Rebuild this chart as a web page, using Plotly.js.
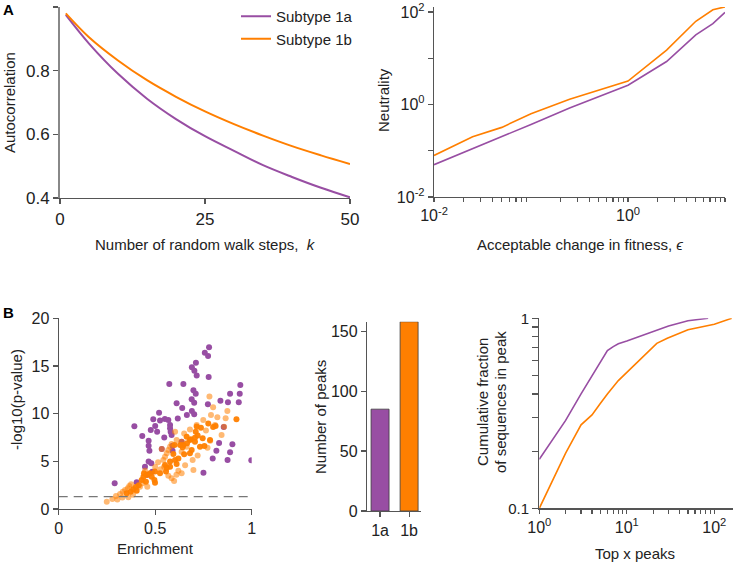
<!DOCTYPE html>
<html>
<head>
<meta charset="utf-8">
<script src="https://cdn.plot.ly/plotly-3.0.1.min.js"></script>
<style>
html,body{margin:0;padding:0;background:#fff;}
#chart{width:736px;height:563px;}
</style>
</head>
<body>
<div id="chart"></div>
<script>
// ---------------- DATA ----------------
const seriesNames = ['Subtype 1a', 'Subtype 1b'];

// Panel A (left): autocorrelation vs random walk steps
const walkSteps = [1, 5, 10, 15, 20, 25, 30, 35, 40, 45, 50];
const autocorr1a = [0.975, 0.885, 0.79, 0.712, 0.648, 0.594, 0.548, 0.503, 0.466, 0.432, 0.402];
const autocorr1b = [0.980, 0.905, 0.832, 0.770, 0.718, 0.672, 0.632, 0.596, 0.563, 0.534, 0.507];

// Panel A (right): neutrality vs acceptable change in fitness
const fitnessChange = [0.01, 0.025, 0.05, 0.1, 0.25, 0.5, 1, 2.5, 5, 7.5, 10];
const neutrality1a = [0.05, 0.11, 0.2, 0.37, 0.84, 1.5, 2.6, 8.5, 32, 56, 98];
const neutrality1b = [0.079, 0.2, 0.32, 0.63, 1.3, 2.0, 3.2, 15, 63, 112, 129];

// Panel B (left): enrichment vs -log10(p-value)
const enrich1a = [0.29,0.404,0.392,0.433,0.447,0.466,0.466,0.47,0.466,0.48,0.477,0.49,0.50,0.51,0.485,0.46,
  0.52,0.525,0.547,0.55,0.568,0.577,0.577,0.58,0.585,0.573,0.59,0.59,0.611,0.617,0.646,0.64,0.664,
  0.689,0.702,0.69,0.702,0.698,0.71,0.69,0.703,0.715,0.711,0.75,0.757,0.774,0.779,0.777,0.773,
  0.798,0.817,0.831,0.838,0.877,0.888,0.875,0.888,0.9,0.933,0.938,0.941,0.998,0.534,0.637,0.855];
const logp1a = [2.7,2.8,8.67,7.66,4.44,7.17,6.64,6.1,4.97,4.8,8.29,9.4,8.7,8.1,3.9,3.6,
  10.1,9.27,7.5,9.44,9.33,8.8,8.46,8.1,7.76,13.1,6.64,6.1,11.1,9.5,13.1,10.6,9.85,
  11.5,11.15,10.28,9.93,12.45,12.1,14.86,14.5,14.0,15.35,3.8,16.4,16.05,16.96,13.84,10.98,
  5.3,6.12,6.92,11.36,11.2,12.1,5.14,5.94,6.8,11.2,12.1,13.0,5.1,6.3,7.06,8.6];

const enrich1b = [0.352,0.373,0.387,0.404,0.43,0.439,0.442,0.452,0.456,0.473,0.482,0.496,0.499,0.499,0.525,
  0.556,0.551,0.577,0.594,0.60,0.65,0.689,0.646,0.663,0.685,0.706,0.746,0.71,0.737,0.775,0.921,
  0.629,0.68,0.706,0.715,0.813,0.642,0.68,0.732,0.784,0.603,0.611,0.577,0.56,0.62,0.665,0.72,0.755,0.80,0.40,0.415];
const logp1b = [1.64,1.82,2.06,1.92,3.04,3.39,3.74,2.87,3.57,3.74,3.39,3.04,2.76,3.92,3.74,
  3.92,4.62,4.97,5.77,6.71,5.73,6.19,6.71,7.59,7.31,7.06,7.41,8.11,8.53,8.98,9.41,
  6.71,7.24,7.48,8.64,8.71,6.47,5.84,6.54,7.24,5.14,4.72,4.44,4.3,5.3,6.9,7.7,6.6,8.6,2.3,2.5];

const enrich1bLow = [0.249,0.278,0.304,0.297,0.318,0.332,0.344,0.358,0.366,0.375,0.361,0.33,0.385,0.421,0.435,
  0.447,0.459,0.528,0.546,0.542,0.551,0.56,0.568,0.577,0.585,0.568,0.585,0.598,0.611,0.603,0.874,0.789,
  0.822,0.865,0.749,0.715,0.81,0.763,0.68,0.844,0.65,0.785,0.771,0.663,0.637,0.694,0.698,0.637,0.781,
  0.80,0.534,0.637,0.857,0.62,0.655,0.72,0.61,0.50,0.515];
const logp1bLow = [0.77,1.05,1.0,1.36,1.57,1.82,2.0,2.17,2.41,2.59,1.22,1.2,1.5,2.34,2.69,
  4.02,2.34,4.16,4.44,5.14,5.49,5.84,6.19,6.54,6.82,3.5,3.22,2.94,7.24,8.11,10.28,9.86,
  9.61,9.51,9.33,8.81,8.81,8.22,8.35,7.76,7.93,7.17,6.43,6.54,6.01,5.14,4.09,3.74,11.8,
  10.66,6.3,7.06,8.63,4.0,4.6,5.6,3.6,4.4,4.9];

const pThreshold = -Math.log10(0.05);

// Panel B (middle): number of peaks
const peakCategories = ['1a', '1b'];
const peakCounts = [85, 158];

// Panel B (right): cumulative fraction of sequences in top x peaks
const topX1a = [1, 2, 3, 4, 5, 6, 7, 8, 10, 20, 30, 50, 60, 70, 85];
const cumFrac1a = [0.181, 0.29, 0.40, 0.50, 0.59, 0.676, 0.71, 0.735, 0.76, 0.85, 0.91, 0.97, 0.98, 0.99, 1.0];
const topX1b = [1, 2, 3, 4, 5, 6, 8, 10, 22, 29, 50, 100, 158];
const cumFrac1b = [0.1, 0.195, 0.275, 0.31, 0.357, 0.40, 0.47, 0.52, 0.738, 0.785, 0.87, 0.93, 1.0];

// Tick labels
const negLog2Ticks = [[0.01, '10<sup>-2</sup>'], [1, '10<sup>0</sup>'], [10, '10<sup>1</sup>']];
const neutralityTicks = [[0.01, '10<sup>-2</sup>'], [0.1, ''], [1, '10<sup>0</sup>'], [10, ''], [100, '10<sup>2</sup>']];
const topXTicks = [[1, '10<sup>0</sup>'], [10, '10<sup>1</sup>'], [100, '10<sup>2</sup>']];
const cumTicks = [[0.1, '0.1'], [1, '1']];

// ---------------- STYLE ----------------
const purple = '#984ea3';
const orange = '#ff7f00';
const FONT = 'Liberation Sans, Arial, Helvetica, sans-serif';
const axisCol = '#555';
const textCol = '#222';
const W = 736, H = 563;
const px = v => v / W;
const py = v => 1 - v / H;

const traces = [
  {x: walkSteps, y: autocorr1a, type: 'scatter', mode: 'lines', name: seriesNames[0],
   line: {color: purple, width: 2, shape: 'spline'}, xaxis: 'x', yaxis: 'y'},
  {x: walkSteps, y: autocorr1b, type: 'scatter', mode: 'lines', name: seriesNames[1],
   line: {color: orange, width: 2, shape: 'spline'}, xaxis: 'x', yaxis: 'y'},

  {x: fitnessChange, y: neutrality1a, type: 'scatter', mode: 'lines', showlegend: false,
   line: {color: purple, width: 1.6}, xaxis: 'x2', yaxis: 'y2'},
  {x: fitnessChange, y: neutrality1b, type: 'scatter', mode: 'lines', showlegend: false,
   line: {color: orange, width: 1.6}, xaxis: 'x2', yaxis: 'y2'},

  {x: enrich1a, y: logp1a, type: 'scatter', mode: 'markers', showlegend: false,
   marker: {color: purple, size: 6}, xaxis: 'x3', yaxis: 'y3'},
  {x: enrich1bLow, y: logp1bLow, type: 'scatter', mode: 'markers', showlegend: false,
   marker: {color: orange, size: 6, opacity: 0.55}, xaxis: 'x3', yaxis: 'y3'},
  {x: enrich1b, y: logp1b, type: 'scatter', mode: 'markers', showlegend: false,
   marker: {color: orange, size: 6, opacity: 0.95}, xaxis: 'x3', yaxis: 'y3'},

  {x: peakCategories, y: peakCounts, type: 'bar', showlegend: false, width: 0.62,
   marker: {color: [purple, orange], line: {color: 'rgba(60,60,60,0.8)', width: 1}},
   xaxis: 'x4', yaxis: 'y4'},

  {x: topX1a, y: cumFrac1a, type: 'scatter', mode: 'lines', showlegend: false,
   line: {color: purple, width: 1.6}, xaxis: 'x5', yaxis: 'y5'},
  {x: topX1b, y: cumFrac1b, type: 'scatter', mode: 'lines', showlegend: false,
   line: {color: orange, width: 1.6}, xaxis: 'x5', yaxis: 'y5'}
];

function ax(extra) {
  return Object.assign({
    showline: true, linecolor: axisCol, linewidth: 1.2, mirror: false,
    showgrid: false, zeroline: false, ticks: 'outside', ticklen: 5, tickwidth: 1.2,
    tickcolor: axisCol, tickfont: {family: FONT, size: 16, color: textCol}, fixedrange: true
  }, extra);
}
// log axes: labelled ticks plus unlabelled minor ticks (2..9 per decade)
function logTicks(labelled, decFrom, decTo) {
  const vals = [], text = [];
  labelled.forEach(t => { vals.push(t[0]); text.push(t[1]); });
  for (let d = decFrom; d < decTo; d++) for (let m = 2; m <= 9; m++) { vals.push(m * Math.pow(10, d)); text.push(''); }
  return {tickmode: 'array', tickvals: vals, ticktext: text};
}

const layout = {
  width: W, height: H, margin: {l: 0, r: 0, t: 0, b: 0},
  paper_bgcolor: '#fff', plot_bgcolor: 'rgba(0,0,0,0)',
  font: {family: FONT, color: textCol},
  showlegend: true,
  legend: {x: px(236), y: py(0), xanchor: 'left', yanchor: 'top', bgcolor: 'rgba(0,0,0,0)',
           font: {family: FONT, size: 15, color: textCol}, tracegroupgap: 0, itemwidth: 30},
  xaxis: ax({domain: [px(60), px(350)], anchor: 'y', range: [0, 50], tickvals: [0, 25, 50], tickfont: {family: FONT, size: 17, color: textCol}}),
  yaxis: ax({domain: [py(198), py(7)], anchor: 'x', range: [0.4, 1], tickvals: [0.4, 0.6, 0.8, 1],
             ticktext: ['0.4', '0.6', '0.8', '1'], tickfont: {family: FONT, size: 17, color: textCol}, linecolor: '#888', linewidth: 2}),
  xaxis2: ax(Object.assign({domain: [px(434), px(725)], anchor: 'y2', type: 'log', range: [-2, 1], ticklen: 4},
              logTicks(negLog2Ticks, -2, 1))),
  yaxis2: ax({domain: [py(197), py(7)], anchor: 'x2', type: 'log', range: [-2, 2.108], tickmode: 'array',
              tickvals: neutralityTicks.map(t => t[0]), ticktext: neutralityTicks.map(t => t[1])}),
  xaxis3: ax({domain: [px(58.7), px(251.7)], anchor: 'y3', range: [0, 1], tickvals: [0, 0.5, 1], ticktext: ['0', '0.5', '1']}),
  yaxis3: ax({domain: [py(509), py(318.3)], anchor: 'x3', range: [0, 20], tickvals: [0, 5, 10, 15, 20]}),
  xaxis4: ax({domain: [px(367), px(421)], anchor: 'y4', type: 'category', range: [-0.45, 1.41]}),
  yaxis4: ax({domain: [py(511), py(321.7)], anchor: 'x4', range: [0, 158], tickvals: [0, 50, 100, 150]}),
  xaxis5: ax(Object.assign({domain: [px(539.3), px(732.7)], anchor: 'y5', type: 'log', range: [0, 2.21], ticklen: 4},
              logTicks(topXTicks, 0, 2))),
  yaxis5: ax(Object.assign({domain: [py(508.3), py(318.3)], anchor: 'x5', type: 'log', range: [-1, 0], ticklen: 6},
              logTicks(cumTicks, -1, 0), {tickfont: {family: FONT, size: 15, color: textCol}})),
  shapes: [
    {type: 'line', xref: 'x3', yref: 'y3', x0: 0, x1: 1, y0: pThreshold, y1: pThreshold,
     line: {color: '#777', width: 1.2, dash: '9px,6px'}}
  ],
  annotations: []
};

function label(text, x, y, opts) {
  layout.annotations.push(Object.assign({text: text, x: px(x), y: py(y), xref: 'paper', yref: 'paper',
    showarrow: false, xanchor: 'center', yanchor: 'middle', font: {family: FONT, size: 15, color: textCol}}, opts || {}));
}
label('<b>A</b>', 8, 10, {font: {family: FONT, size: 15, color: '#000'}});
label('<b>B</b>', 8, 312, {font: {family: FONT, size: 15, color: '#000'}});
label('Autocorrelation', 9, 103, {textangle: -90});
label('Number of random walk steps,  <i>k</i>', 205, 245);
label('Neutrality', 383, 100, {textangle: -90});
label('Acceptable change in fitness, <i>ϵ</i>', 580, 245);
label('-log10(p-value)', 16, 400, {textangle: -90});
label('Enrichment', 155, 548);
label('Number of peaks', 320, 417, {textangle: -90});
label('Cumulative fraction', 482, 402, {textangle: -90});
label('of sequences in peak', 500, 402, {textangle: -90});
label('Top x peaks', 635, 553);

Plotly.newPlot('chart', traces, layout, {displayModeBar: false, staticPlot: true});
</script>
</body>
</html>
